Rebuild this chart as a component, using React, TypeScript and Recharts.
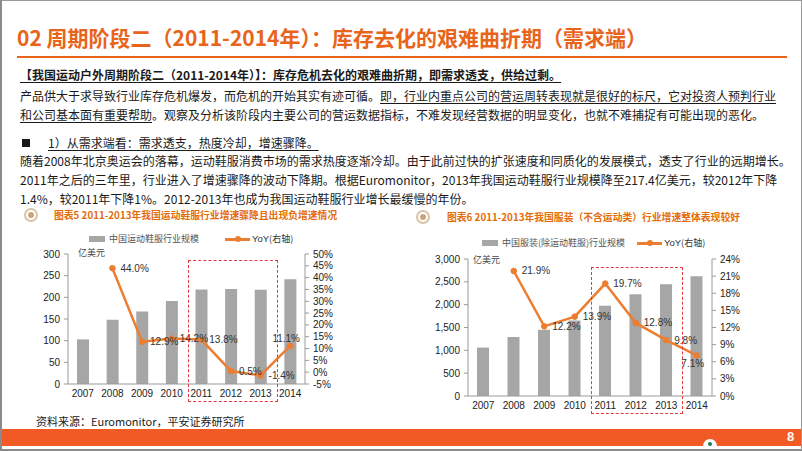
import React from "react"
import { ComposedChart, Bar, Line, XAxis, YAxis, LabelList } from "recharts"

const years = ["2007", "2008", "2009", "2010", "2011", "2012", "2013", "2014"]

// 图表5：中国运动鞋服行业规模（亿美元）及同比
const sportsSize = [103, 148.5, 167.5, 191.5, 218, 219.5, 217.4, 241.5]
const sportsYoy = [null, 44.0, 12.9, 14.2, 13.8, 0.5, -1.4, 11.1]
const sportsLeftTicks = [0, 50, 100, 150, 200, 250, 300]
const sportsRightTicks = [-5, 0, 5, 10, 15, 20, 25, 30, 35, 40, 45, 50]

// 图表6：中国服装(除运动鞋服)行业规模（亿美元）及同比
const apparelSize = [1060, 1292, 1450, 1651, 1977, 2230, 2449, 2623]
const apparelYoy = [null, 21.9, 12.2, 13.9, 19.7, 12.8, 9.8, 7.1]
const apparelLeftTicks = [0, 500, 1000, 1500, 2000, 2500, 3000]
const apparelRightTicks = [0, 3, 6, 9, 12, 15, 18, 21, 24]

const sportsData = years.map((year, i) => ({ year, size: sportsSize[i], yoy: sportsYoy[i] }))
const apparelData = years.map((year, i) => ({ year, size: apparelSize[i], yoy: apparelYoy[i] }))

const CN = '"Noto Sans CJK SC", "Noto Sans", sans-serif'
const LAT = '"Liberation Sans", Arial, sans-serif'
const ORANGE = "#ED7D31"
const BAR = "#A6A6A6"
const AXIS = "#9A9A9A"

function T({ x, y, size = 12, color = "#1a1a1a", weight = "normal", font = CN, children, style }: any) {
  return (
    <div
      style={{
        position: "absolute",
        left: x,
        top: y - size * 0.65,
        fontSize: size,
        lineHeight: `${size * 1.3}px`,
        color,
        fontWeight: weight,
        fontFamily: font,
        whiteSpace: "nowrap",
        ...style,
      }}
    >
      {children}
    </div>
  )
}

const U = ({ children }: any) => (
  <span style={{ textDecoration: "underline", textUnderlineOffset: 2 }}>{children}</span>
)

// 数据标签：默认放在点的右侧，最后一个点另行处理
const yoyLabel = (lastBelow: boolean) => (props: any) => {
  const { x, y, value, index } = props
  if (value == null) return null
  const last = index === years.length - 1
  const txt = `${Number(value).toFixed(1)}%`
  if (last) {
    return (
      <text x={x - 4} y={lastBelow ? y + 12 : y - 4} textAnchor="middle" fontSize={10} fontFamily={LAT} fill="#333">
        {txt}
      </text>
    )
  }
  return (
    <text x={x + 8} y={y + 3.5} textAnchor="start" fontSize={10} fontFamily={LAT} fill="#333">
      {txt}
    </text>
  )
}

function Icon({ x, y }: any) {
  return (
    <div
      style={{
        position: "absolute",
        left: x - 7,
        top: y - 7,
        width: 10,
        height: 10,
        borderRadius: "50%",
        border: "2px solid #D9C4A6",
        background: "#fff",
        display: "flex",
        alignItems: "center",
        justifyContent: "center",
      }}
    >
      <div style={{ width: 6, height: 6, borderRadius: "50%", background: "#C9A47C" }} />
    </div>
  )
}

function Legend({ x1, label1, x2, y }: any) {
  return (
    <>
      <div style={{ position: "absolute", left: x1, top: y - 3, width: 16, height: 6, background: BAR }} />
      <T x={x1 + 20} y={y} size={9} color="#555">{label1}</T>
      <div style={{ position: "absolute", left: x2, top: y - 1, width: 25, height: 2.5, background: ORANGE }} />
      <div style={{ position: "absolute", left: x2 + 10, top: y - 3, width: 6, height: 6, borderRadius: "50%", background: ORANGE }} />
      <T x={x2 + 27} y={y} size={9.5} color="#333" font={LAT}>YoY<span style={{ fontFamily: CN, fontSize: 9 }}>(右轴)</span></T>
    </>
  )
}

function Chart({ data, leftTicks, rightTicks, leftDomain, rightDomain, width, height, margin, fmtLeft, lastBelow }: any) {
  const tick = { fontSize: 10, fill: "#222", fontFamily: LAT }
  return (
    <ComposedChart width={width} height={height} data={data} margin={margin}>
      <XAxis
        dataKey="year"
        interval={0}
        tick={tick}
        tickLine={false}
        tickSize={0}
        tickMargin={6}
        height={30}
        axisLine={{ stroke: AXIS }}
      />
      <YAxis
        yAxisId="l"
        domain={leftDomain}
        ticks={leftTicks}
        interval={0}
        tick={tick}
        width={40}
        tickSize={4}
        tickMargin={4}
        tickFormatter={fmtLeft}
        axisLine={{ stroke: AXIS }}
        tickLine={{ stroke: AXIS }}
        allowDataOverflow
      />
      <YAxis
        yAxisId="r"
        orientation="right"
        domain={rightDomain}
        ticks={rightTicks}
        interval={0}
        tick={tick}
        width={40}
        tickSize={4}
        tickMargin={4}
        tickFormatter={(v: number) => `${v}%`}
        axisLine={{ stroke: AXIS }}
        tickLine={{ stroke: AXIS }}
        allowDataOverflow
      />
      <Bar yAxisId="l" dataKey="size" fill={BAR} barSize={12} isAnimationActive={false} />
      <Line
        yAxisId="r"
        dataKey="yoy"
        stroke={ORANGE}
        strokeWidth={2.5}
        dot={{ r: 2.8, fill: ORANGE, stroke: ORANGE, strokeWidth: 1 }}
        isAnimationActive={false}
      >
        <LabelList dataKey="yoy" content={yoyLabel(lastBelow)} />
      </Line>
    </ComposedChart>
  )
}

export default function App() {
  return (
    <div
      style={{
        position: "absolute",
        left: 0,
        top: 0,
        width: 802,
        height: 451,
        background: "#fff",
        overflow: "hidden",
        fontFamily: CN,
      }}
    >
      {/* 边框 */}
      <div style={{ position: "absolute", left: 0, top: 0, width: 802, height: 451, boxSizing: "border-box", borderLeft: "2px solid #8a8a8a", borderTop: "1px solid #9a9a9a", borderRight: "1px solid #9a9a9a", borderBottom: "2px solid #8a8a8a" }} />

      {/* 标题 */}
      <T x={17} y={38} size={21} color="#E8641B" weight="bold">02 周期阶段二（2011-2014年）：库存去化的艰难曲折期（需求端）</T>
      <div style={{ position: "absolute", left: 17, top: 56, width: 770, height: 2, background: "#E8641B" }} />

      <T x={20} y={75} size={12} weight="bold"><U>【我国运动户外周期阶段二（2011-2014年）】：库存危机去化的艰难曲折期，即需求透支，供给过剩。</U></T>
      <T x={20} y={96} size={12}>产品供大于求导致行业库存危机爆发，而危机的开始其实有迹可循。<U>即，行业内重点公司的营运周转表现就是很好的标尺，它对投资人预判行业</U></T>
      <T x={20} y={115} size={12}><U>和公司基本面有重要帮助</U>。观察及分析该阶段内主要公司的营运数据指标，不难发现经营数据的明显变化，也就不难捕捉有可能出现的恶化。</T>

      <div style={{ position: "absolute", left: 22, top: 139, width: 8, height: 8, background: "#1a1a1a" }} />
      <T x={48} y={143} size={12}><U>1）从需求端看：需求透支，热度冷却，增速骤降。</U></T>
      <T x={20} y={161} size={12}>随着2008年北京奥运会的落幕，运动鞋服消费市场的需求热度逐渐冷却。由于此前过快的扩张速度和同质化的发展模式，透支了行业的远期增长。</T>
      <T x={20} y={180} size={12}>2011年之后的三年里，行业进入了增速骤降的波动下降期。根据Euromonitor，2013年我国运动鞋服行业规模降至217.4亿美元，较2012年下降</T>
      <T x={20} y={199} size={12}>1.4%，较2011年下降1%。2012-2013年也成为我国运动鞋服行业增长最缓慢的年份。</T>

      {/* 图表5 */}
      <Icon x={31} y={215} />
      <T x={54} y={215} size={9.8} color="#E46C0A" weight="bold">图表5 2011-2013年我国运动鞋服行业增速骤降且出现负增速情况</T>
      <Legend x1={89} label1="中国运动鞋服行业规模" x2={225} y={239} />
      <T x={78} y={253} size={9} color="#444">亿美元</T>
      <div style={{ position: "absolute", left: 20, top: 244 }}>
        <Chart
          data={sportsData}
          leftTicks={sportsLeftTicks}
          rightTicks={sportsRightTicks}
          leftDomain={[0, 300]}
          rightDomain={[-5, 50]}
          width={340}
          height={175}
          margin={{ top: 10, right: 15, left: 8, bottom: 5 }}
          lastBelow={false}
        />
      </div>
      <div style={{ position: "absolute", left: 188, top: 260, width: 90, height: 142, border: "1px dashed #E0383C", boxSizing: "border-box" }} />
      <T x={36} y={421} size={11} color="#222">资料来源：Euromonitor，平安证券研究所</T>

      {/* 图表6 */}
      <Icon x={423} y={217} />
      <T x={447} y={217} size={9.8} color="#E46C0A" weight="bold">图表6 2011-2013年我国服装（不含运动类）行业增速整体表现较好</T>
      <Legend x1={482} label1="中国服装(除运动鞋服)行业规模" x2={637} y={243} />
      <T x={473} y={260} size={9} color="#444">亿美元</T>
      <div style={{ position: "absolute", left: 420, top: 249 }}>
        <Chart
          data={apparelData}
          leftTicks={apparelLeftTicks}
          rightTicks={apparelRightTicks}
          leftDomain={[0, 3000]}
          rightDomain={[0, 24]}
          width={350}
          height={182}
          margin={{ top: 10, right: 18, left: 8, bottom: 5 }}
          fmtLeft={(v: number) => v.toLocaleString("en-US")}
          lastBelow={true}
        />
      </div>
      <div style={{ position: "absolute", left: 591, top: 267, width: 92, height: 147, border: "1px dashed #E0383C", boxSizing: "border-box" }} />

      {/* 底部色条 */}
      <div style={{ position: "absolute", left: 2, top: 429, width: 799, height: 17, background: "#F15A24" }} />
      <div style={{ position: "absolute", left: 703, top: 439, width: 14, height: 8, borderRadius: "7px 7px 0 0", background: "#fff" }} />
      <div style={{ position: "absolute", left: 708, top: 442, width: 4, height: 4, borderRadius: "50%", background: "#1E7A5A" }} />
      <T x={787} y={437} size={13} color="#fff" weight="bold" font={LAT}>8</T>
    </div>
  )
}
